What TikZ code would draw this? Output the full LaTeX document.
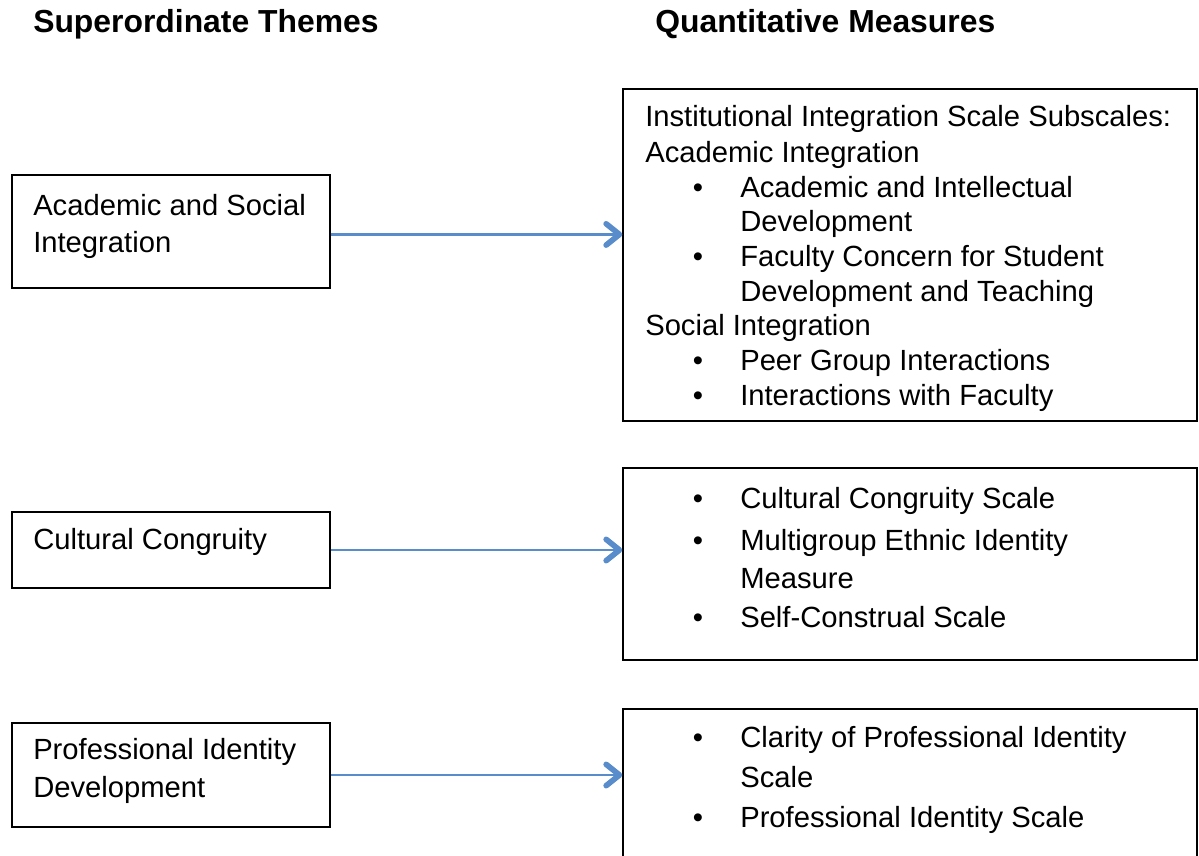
\documentclass[tikz,border=0pt]{standalone}
\usepackage{fontspec}
\setmainfont{Liberation Sans}
\usetikzlibrary{arrows.meta,fit}

\definecolor{linkblue}{RGB}{88,140,202}

\begin{document}
\begin{tikzpicture}[x=0.75pt,y=-0.75pt,
  box/.style={draw=black,line width=1.1pt,inner sep=0pt},
  txt/.style={inner sep=0pt,anchor=base west,font=\fontsize{21.9pt}{26pt}\selectfont},
  bul/.style={inner sep=0pt,anchor=base,font=\fontsize{21.9pt}{26pt}\selectfont},
  head/.style={inner sep=0pt,anchor=base west,font=\fontsize{23.9pt}{28pt}\selectfont\bfseries},
  link/.style={draw=linkblue,line width=1.7pt,
    -{Straight Barb[length=10pt,width=16pt,line width=4.2pt,round]}}]
\clip (0,0) rectangle (1199,856);

% column headings
\node[head] (hthemes) at (33,33) {Superordinate Themes};
\node[head] (hmeasures) at (655,33) {Quantitative Measures};

% theme boxes (left)
\node[box,fit={(12,175)(330,288)}] (L1) {};
\node[box,fit={(12,512)(330,588)}] (L2) {};
\node[box,fit={(12,723)(330,827)}] (L3) {};

\node[txt] (l1a) at (33,215) {Academic and Social};
\node[txt] (l1b) at (33,252) {Integration};
\node[txt] (l2a) at (33,549) {Cultural Congruity};
\node[txt] (l3a) at (33,759) {Professional Identity};
\node[txt] (l3b) at (33,797) {Development};

% measure boxes (right)
\node[box,fit={(623,89)(1197,421)}] (R1) {};
\node[box,fit={(623,468)(1197,660)}] (R2) {};
\node[box,fit={(623,709)(1197,900)}] (R3) {};

% first measure box
\node[txt] (r1a) at (645,127) {Institutional Integration Scale Subscales:};
\node[txt] (r1b) at (645,162) {Academic Integration};
\node[bul] (b1) at (698,197) {•};
\node[txt] (r1c) at (740,197) {Academic and Intellectual};
\node[txt] (r1d) at (740,231) {Development};
\node[bul] (b2) at (698,266) {•};
\node[txt] (r1e) at (740,266) {Faculty Concern for Student};
\node[txt] (r1f) at (740,301) {Development and Teaching};
\node[txt] (r1g) at (645,335) {Social Integration};
\node[bul] (b3) at (698,370) {•};
\node[txt] (r1h) at (740,370) {Peer Group Interactions};
\node[bul] (b4) at (698,405) {•};
\node[txt] (r1i) at (740,405) {Interactions with Faculty};

% second measure box
\node[bul] (b5) at (698,508) {•};
\node[txt] (r2a) at (740,508) {Cultural Congruity Scale};
\node[bul] (b6) at (698,550) {•};
\node[txt] (r2b) at (740,550) {Multigroup Ethnic Identity};
\node[txt] (r2c) at (740,588) {Measure};
\node[bul] (b7) at (698,627) {•};
\node[txt] (r2d) at (740,627) {Self-Construal Scale};

% third measure box
\node[bul] (b8) at (698,747) {•};
\node[txt] (r3a) at (740,747) {Clarity of Professional Identity};
\node[txt] (r3b) at (740,787) {Scale};
\node[bul] (b9) at (698,827) {•};
\node[txt] (r3c) at (740,827) {Professional Identity Scale};

% connectors
\draw[link] ([yshift=-2.2pt]L1.east) -- ([yshift=-2.2pt]L1.east -| R1.west);
\draw[link] (L2.east) -- (L2.east -| R2.west);
\draw[link] (L3.east) -- (L3.east -| R3.west);
\end{tikzpicture}
\end{document}
